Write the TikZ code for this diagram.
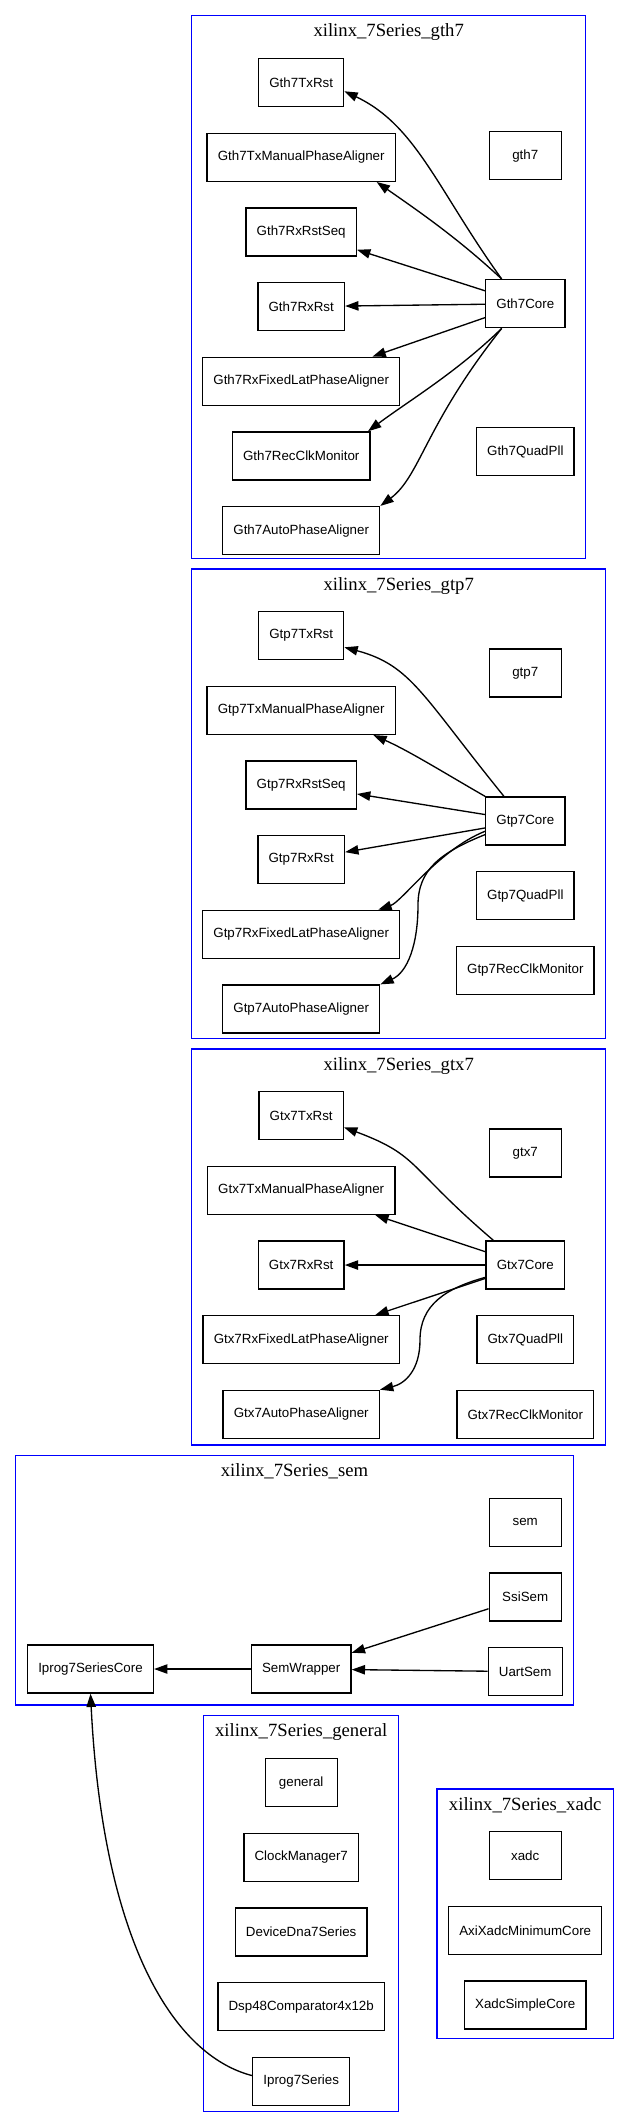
\documentclass[tikz,border=0pt]{standalone}
\usepackage{fontspec}
\setmainfont{Liberation Serif}
\newfontfamily\boxfont{Liberation Sans}
\usetikzlibrary{positioning,arrows.meta}

\begin{document}
\begin{tikzpicture}[
      x=0.75pt, y=-0.75pt,
      mod/.style={draw, rectangle, line width=1pt, minimum width=54pt, minimum height=36pt, inner xsep=8pt, font=\boxfont\fontsize{10}{12}\selectfont},
      cluster/.style={draw=blue, line width=1pt},
      ctitle/.style={anchor=base, font=\fontsize{14}{16}\selectfont},
      dep/.style={-{Triangle[length=10pt,width=7pt]}, line width=1pt},
      node distance=19pt
    ]
    \useasboundingbox (0,0) rectangle (629,2128);

    \draw[cluster] (191.7,15.5) rectangle (585.7,558.3);
    \node[ctitle] (gthtitle) at (388.7,36.5) {xilinx\_7Series\_gth7};
    \node[mod] (Gth7TxRst) at (301.2,82.6) {Gth7TxRst};
    \node[mod,below=of Gth7TxRst] (Gth7TxManualPhaseAligner) {Gth7TxManualPhaseAligner};
    \node[mod,below=of Gth7TxManualPhaseAligner] (Gth7RxRstSeq) {Gth7RxRstSeq};
    \node[mod,below=of Gth7RxRstSeq] (Gth7RxRst) {Gth7RxRst};
    \node[mod,below=of Gth7RxRst] (Gth7RxFixedLatPhaseAligner) {Gth7RxFixedLatPhaseAligner};
    \node[mod,below=of Gth7RxFixedLatPhaseAligner] (Gth7RecClkMonitor) {Gth7RecClkMonitor};
    \node[mod,below=of Gth7RecClkMonitor] (Gth7AutoPhaseAligner) {Gth7AutoPhaseAligner};
    \node[mod] (gth7) at (525.3,155.7) {gth7};
    \node[mod,below=74pt of gth7] (Gth7Core) {Gth7Core};
    \node[mod,below=74pt of Gth7Core] (Gth7QuadPll) {Gth7QuadPll};

    \draw[dep] ([xshift=-17.7pt]Gth7Core.north) .. controls +(-64,-89) and +(72,34) .. ([yshift=-6.5pt]Gth7TxRst.east);
    \draw[dep] ([xshift=-17.7pt]Gth7Core.north) .. controls +(-45,-42) and +(40,28) .. ([xshift=56.6pt]Gth7TxManualPhaseAligner.south);
    \draw[dep] (Gth7Core) -- (Gth7RxRstSeq);
    \draw[dep] (Gth7Core) -- (Gth7RxRst);
    \draw[dep] (Gth7Core) -- (Gth7RxFixedLatPhaseAligner);
    \draw[dep] ([xshift=-17.7pt]Gth7Core.south) .. controls +(-45,44) and +(40,-30) .. ([xshift=-2pt]Gth7RecClkMonitor.north east);
    \draw[dep] ([xshift=-17.7pt]Gth7Core.south) .. controls +(-76.7,96.5) and +(40,-30) .. (Gth7AutoPhaseAligner.north east);

    \draw[cluster] (191.7,569) rectangle (605.7,1038.3);
    \node[ctitle] (gtptitle) at (398.7,590) {xilinx\_7Series\_gtp7};
    \node[mod] (Gtp7TxRst) at (301.2,635.7) {Gtp7TxRst};
    \node[mod,below=of Gtp7TxRst] (Gtp7TxManualPhaseAligner) {Gtp7TxManualPhaseAligner};
    \node[mod,below=of Gtp7TxManualPhaseAligner] (Gtp7RxRstSeq) {Gtp7RxRstSeq};
    \node[mod,below=of Gtp7RxRstSeq] (Gtp7RxRst) {Gtp7RxRst};
    \node[mod,below=of Gtp7RxRst] (Gtp7RxFixedLatPhaseAligner) {Gtp7RxFixedLatPhaseAligner};
    \node[mod,below=of Gtp7RxFixedLatPhaseAligner] (Gtp7AutoPhaseAligner) {Gtp7AutoPhaseAligner};
    \node[mod] (gtp7) at (525.3,673) {gtp7};
    \node[mod,below=74pt of gtp7] (Gtp7Core) {Gtp7Core};
    \node[mod,below=of Gtp7Core] (Gtp7QuadPll) {Gtp7QuadPll};
    \node[mod,below=of Gtp7QuadPll] (Gtp7RecClkMonitor) {Gtp7RecClkMonitor};

    \draw[dep] ([xshift=-16pt]Gtp7Core.north) .. controls +(-82,-101) and +(67,18) .. ([yshift=-8.7pt]Gtp7TxRst.east);
    \draw[dep] (Gtp7Core.north west) .. controls +(-40,-23) and +(36,16) .. ([xshift=54.1pt]Gtp7TxManualPhaseAligner.south);
    \draw[dep] (Gtp7Core) -- (Gtp7RxRstSeq);
    \draw[dep] (Gtp7Core) -- (Gtp7RxRst);
    \draw[dep] ([yshift=-7.7pt]Gtp7Core.west) .. controls +(-46.5,18.5) and +(23.75,-8) .. ([xshift=57.8pt]Gtp7RxFixedLatPhaseAligner.north);
    \draw[dep] ([yshift=-10.2pt]Gtp7Core.west) .. controls +(-45,18) and +(0,-35) .. (418,905) .. controls +(0,40) and +(27,-12) .. (Gtp7AutoPhaseAligner.north east);

    \draw[cluster] (191.7,1049) rectangle (605.7,1445);
    \node[ctitle] (gtxtitle) at (398.7,1070) {xilinx\_7Series\_gtx7};
    \node[mod] (Gtx7TxRst) at (301.2,1115.7) {Gtx7TxRst};
    \node[mod,below=of Gtx7TxRst] (Gtx7TxManualPhaseAligner) {Gtx7TxManualPhaseAligner};
    \node[mod,below=of Gtx7TxManualPhaseAligner] (Gtx7RxRst) {Gtx7RxRst};
    \node[mod,below=of Gtx7RxRst] (Gtx7RxFixedLatPhaseAligner) {Gtx7RxFixedLatPhaseAligner};
    \node[mod,below=of Gtx7RxFixedLatPhaseAligner] (Gtx7AutoPhaseAligner) {Gtx7AutoPhaseAligner};
    \node[mod] (gtx7) at (525.3,1153) {gtx7};
    \node[mod] (Gtx7Core) at (gtx7 |- Gtx7RxRst) {Gtx7Core};
    \node[mod,below=of Gtx7Core] (Gtx7QuadPll) {Gtx7QuadPll};
    \node[mod,below=of Gtx7QuadPll] (Gtx7RecClkMonitor) {Gtx7RecClkMonitor};

    \draw[dep] ([xshift=-23.9pt]Gtx7Core.north) .. controls +(-86.3,-73.8) and +(76.4,28.5) .. ([yshift=-8.7pt]Gtx7TxRst.east);
    \draw[dep] (Gtx7Core) -- (Gtx7TxManualPhaseAligner);
    \draw[dep] (Gtx7Core) -- (Gtx7RxRst);
    \draw[dep] (Gtx7Core) -- (Gtx7RxFixedLatPhaseAligner);
    \draw[dep] ([yshift=-9.2pt]Gtx7Core.west) .. controls +(-40,11) and +(0,-35) .. (420,1340) .. controls +(0,30) and +(25,-6) .. (Gtx7AutoPhaseAligner.north east);

    \draw[cluster] (15.7,1455.7) rectangle (573.3,1705);
    \node[ctitle] (semtitle) at (294.5,1476.7) {xilinx\_7Series\_sem};
    \node[mod] (sem) at (525.2,1522.3) {sem};
    \node[mod,below=of sem] (SsiSem) {SsiSem};
    \node[mod,below=of SsiSem] (UartSem) {UartSem};
    \node[mod] (SemWrapper) at (301.2,1669) {SemWrapper};
    \node[mod] (Iprog7SeriesCore) at (90.5,1669) {Iprog7SeriesCore};

    \draw[dep] (SsiSem) -- (SemWrapper);
    \draw[dep] (UartSem) -- (SemWrapper);
    \draw[dep] (SemWrapper) -- (Iprog7SeriesCore);

    \draw[cluster] (203.7,1715.7) rectangle (398.7,2111.7);
    \node[ctitle] (generaltitle) at (301.2,1736.7) {xilinx\_7Series\_general};
    \node[mod] (general) at (301.2,1782.7) {general};
    \node[mod,below=of general] (ClockManager7) {ClockManager7};
    \node[mod,below=of ClockManager7] (DeviceDna7Series) {DeviceDna7Series};
    \node[mod,below=of DeviceDna7Series] (Dsp48Comparator4x12b) {Dsp48Comparator4x12b};
    \node[mod,below=of Dsp48Comparator4x12b] (Iprog7Series) {Iprog7Series};

    \draw[dep] ([yshift=4.35pt]Iprog7Series.west) .. controls +(-77.6,-20) and +(12.5,250) .. (Iprog7SeriesCore.south);

    \draw[cluster] (437,1789) rectangle (613.3,2038.7);
    \node[ctitle] (xadctitle) at (525.2,1810) {xilinx\_7Series\_xadc};
    \node[mod] (xadc) at (525.2,1855.8) {xadc};
    \node[mod,below=of xadc] (AxiXadcMinimumCore) {AxiXadcMinimumCore};
    \node[mod,below=of AxiXadcMinimumCore] (XadcSimpleCore) {XadcSimpleCore};
  \end{tikzpicture}
\end{document}
